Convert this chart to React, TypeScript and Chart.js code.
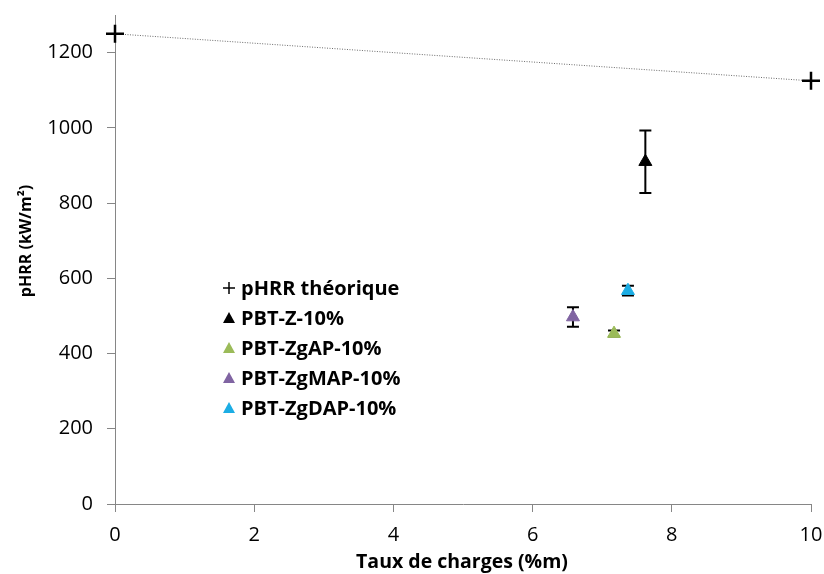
import React, { useEffect, useRef } from "react";
import { Chart, registerables } from "chart.js";

Chart.register(...registerables);

const theoLabel = "pHRR théorique";
const theoX = [0, 10];
const theoY = [1250, 1125];

const sampleNames = ["PBT-Z-10%", "PBT-ZgAP-10%", "PBT-ZgMAP-10%", "PBT-ZgDAP-10%"];
const sampleX = [7.62, 7.17, 6.58, 7.37];
const sampleY = [910, 453, 497, 567];
const sampleErr = [83, 8, 26, 13];
const sampleColors = ["#000000", "#9BBB59", "#8064A2", "#1CADE4"];

const xTitle = "Taux de charges (%m)";
const yTitle = "pHRR (kW/m²)";
const xMin = 0, xMax = 10, xStep = 2;
const yMin = 0, yMax = 1300, yStep = 200;

const FONT = "'Open Sans', sans-serif";

const errorBarPlugin = {
  id: "errorBars",
  beforeDatasetsDraw(chart: any) {
    const { ctx, scales } = chart;
    const xs = scales.x, ys = scales.y;
    ctx.save();
    ctx.strokeStyle = "#000";
    ctx.lineWidth = 2;
    for (let i = 0; i < sampleNames.length; i++) {
      const px = xs.getPixelForValue(sampleX[i]);
      const top = ys.getPixelForValue(sampleY[i] + sampleErr[i]);
      const bot = ys.getPixelForValue(sampleY[i] - sampleErr[i]);
      ctx.beginPath();
      ctx.moveTo(px, top);
      ctx.lineTo(px, bot);
      ctx.moveTo(px - 6, top);
      ctx.lineTo(px + 6, top);
      ctx.moveTo(px - 6, bot);
      ctx.lineTo(px + 6, bot);
      ctx.stroke();
    }
    ctx.restore();
  },
};

const decorPlugin = {
  id: "decor",
  afterDraw(chart: any) {
    const { ctx } = chart;
    ctx.save();
    ctx.fillStyle = "#000";
    ctx.textAlign = "center";
    ctx.textBaseline = "middle";
    // y title
    ctx.font = `bold 16px ${FONT}`;
    ctx.save();
    ctx.translate(26, 241);
    ctx.rotate(-Math.PI / 2);
    ctx.fillText(yTitle, 0, 0);
    ctx.restore();
    // x title
    ctx.font = `bold 19.5px ${FONT}`;
    ctx.fillText(xTitle, 462, 562);

    // legend
    const rows = [theoLabel, ...sampleNames];
    const y0 = 288, dy = 30;
    const mx = 229, tx = 241;
    ctx.textAlign = "left";
    ctx.font = `bold 20px ${FONT}`;
    rows.forEach((label, i) => {
      const y = y0 + i * dy;
      if (i === 0) {
        ctx.strokeStyle = "#000";
        ctx.lineWidth = 1.5;
        ctx.beginPath();
        ctx.moveTo(mx - 6, y);
        ctx.lineTo(mx + 6, y);
        ctx.moveTo(mx, y - 6);
        ctx.lineTo(mx, y + 6);
        ctx.stroke();
      } else {
        ctx.fillStyle = sampleColors[i - 1];
        ctx.beginPath();
        ctx.moveTo(mx, y - 6);
        ctx.lineTo(mx + 6, y + 5);
        ctx.lineTo(mx - 6, y + 5);
        ctx.closePath();
        ctx.fill();
      }
      ctx.fillStyle = "#000";
      ctx.fillText(label, tx, y + 1);
    });
    ctx.restore();
  },
};

export default function App() {
  const ref = useRef<HTMLCanvasElement>(null);
  useEffect(() => {
    document.body.style.margin = "0";
    const datasets: any[] = [
      {
        label: theoLabel,
        data: theoX.map((x, i) => ({ x, y: theoY[i] })),
        showLine: true,
        clip: false,
        borderColor: "#6b6b6b",
        borderWidth: 1,
        borderDash: [1, 1.5],
        pointStyle: "cross",
        pointRadius: 9,
        pointBorderWidth: 2.5,
        pointBorderColor: "#000",
        pointBackgroundColor: "#000",
      },
      ...sampleNames.map((name, i) => ({
        label: name,
        data: [{ x: sampleX[i], y: sampleY[i] }],
        clip: false,
        pointStyle: "triangle",
        pointRadius: 7.5,
        pointBorderWidth: 1,
        pointBorderColor: sampleColors[i],
        pointBackgroundColor: sampleColors[i],
      })),
    ];
    const axisColor = "#868686";
    const chart = new Chart(ref.current!, {
      type: "scatter",
      data: { datasets },
      options: {
        animation: false,
        responsive: false,
        layout: { padding: { top: 15, right: 13, left: 0, bottom: 0 } },
        plugins: { legend: { display: false }, tooltip: { enabled: false } },
        scales: {
          x: {
            type: "linear",
            min: xMin,
            max: xMax,
            ticks: {
              stepSize: xStep,
              color: "#000",
              padding: 11,
              font: { family: FONT, size: 20 },
              callback: (v: any) => String(v),
            },
            grid: { drawOnChartArea: false, drawTicks: true, tickLength: 8, color: axisColor },
            border: { color: axisColor, width: 1 },
            afterFit(s: any) {
              s.height = 70;
              s.paddingLeft = 0;
              s.paddingRight = 0;
            },
          },
          y: {
            type: "linear",
            min: yMin,
            max: yMax,
            ticks: {
              stepSize: yStep,
              includeBounds: false,
              color: "#000",
              padding: 14,
              font: { family: FONT, size: 20 },
              callback: (v: any) => String(v),
            },
            grid: { drawOnChartArea: false, drawTicks: true, tickLength: 8, color: axisColor },
            border: { color: axisColor, width: 1 },
            afterFit(s: any) {
              s.width = 115;
              s.paddingTop = 0;
              s.paddingBottom = 0;
            },
          },
        },
      } as any,
      plugins: [errorBarPlugin, decorPlugin],
    });
    return () => chart.destroy();
  }, []);
  return <canvas ref={ref} width={824} height={574} style={{ display: "block" }} />;
}
